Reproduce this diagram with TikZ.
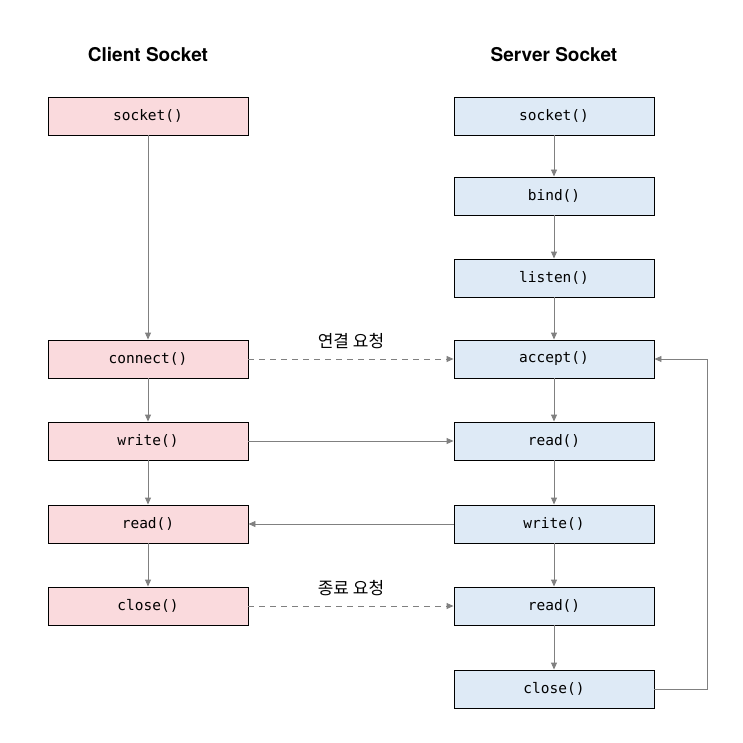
\documentclass[tikz,border=0pt]{standalone}
\usepackage{fontspec}
\setmainfont{Noto Sans}
\setmonofont{DejaVu Sans Mono}
\newfontfamily\cjk{Noto Sans CJK KR}
\newfontfamily\titlefont{TeX Gyre Heros}
\usetikzlibrary{positioning,arrows.meta}
\definecolor{clientfill}{HTML}{FADADD}
\definecolor{serverfill}{HTML}{DEEAF6}
\definecolor{linegray}{HTML}{808080}

\begin{document}
\begin{tikzpicture}[
    x=1pt, y=-1pt,
    block/.style={rectangle, draw=black, line width=0.9pt, minimum width=200pt, minimum height=38pt, font=\ttfamily\fontsize{14.5}{17}\selectfont},
    client/.style={block, fill=clientfill},
    server/.style={block, fill=serverfill},
    line/.style={draw=linegray, line width=0.9pt, -{Triangle[length=7pt,width=6pt]}},
    title/.style={font=\titlefont\bfseries\fontsize{19}{22}\selectfont},
    label/.style={font=\cjk\fontsize{17}{20}\selectfont}
]
\useasboundingbox (0,0) rectangle (742,743);

\node [title] (ctitle) at (148,55) {Client Socket};
\node [title] (stitle) at (554,55) {Server Socket};

% client side
\node [client] (csocket) at (148,116) {socket()};
\node [client] (cconnect) at (148,359) {connect()};
\node [client] (cwrite) at (148,441) {write()};
\node [client] (cread) at (148,524) {read()};
\node [client] (cclose) at (148,606) {close()};

% server side
\node [server] (ssocket) at (554,116) {socket()};
\node [server] (sbind) at (554,196) {bind()};
\node [server] (slisten) at (554,278) {listen()};
\node [server] (saccept) at (554,359) {accept()};
\node [server] (sread) at (554,441) {read()};
\node [server] (swrite) at (554,524) {write()};
\node [server] (sread2) at (554,606) {read()};
\node [server] (sclose) at (554,689) {close()};
\coordinate (loopb) at (707,689);
\coordinate (loopt) at (707,359);

\path [line] (csocket) -- (cconnect);
\path [line] (cconnect) -- (cwrite);
\path [line] (cwrite) -- (cread);
\path [line] (cread) -- (cclose);

\path [line] (ssocket) -- (sbind);
\path [line] (sbind) -- (slisten);
\path [line] (slisten) -- (saccept);
\path [line] (saccept) -- (sread);
\path [line] (sread) -- (swrite);
\path [line] (swrite) -- (sread2);
\path [line] (sread2) -- (sclose);
\path [line] (sclose.east) -- (loopb) -- (loopt) -- (saccept.east);

\path [line, dashed, dash pattern=on 6pt off 5pt] (cconnect) -- node [label, above=6pt] {연결 요청} (saccept);
\path [line] (cwrite.east) -- (sread.west);
\path [line] (swrite.west) -- (cread.east);
\path [line, dashed, dash pattern=on 6pt off 5pt] (cclose) -- node [label, above=6pt] {종료 요청} (sread2);

\end{tikzpicture}
\end{document}
